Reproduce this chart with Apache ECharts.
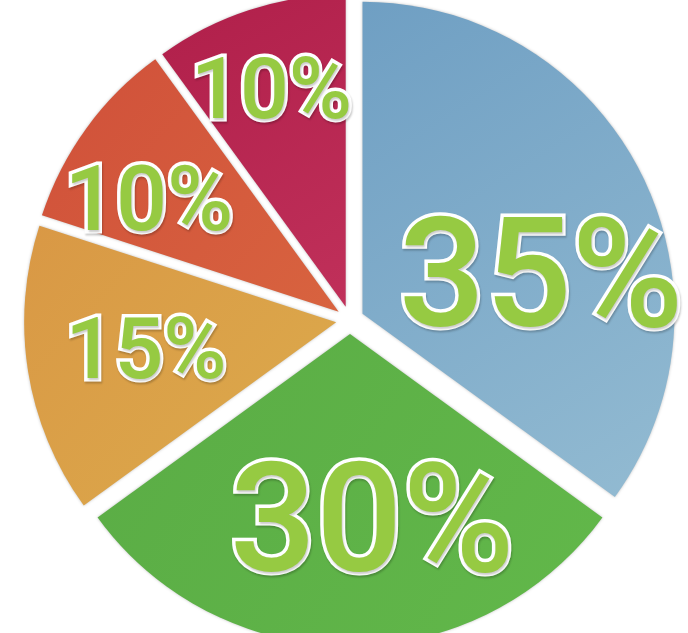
<!DOCTYPE html>
<html>
<head>
<meta charset="utf-8">
<script src="https://cdn.jsdelivr.net/npm/echarts@6/dist/echarts.min.js"></script>
<style>
html,body{margin:0;padding:0;background:#fff;}
#chart{width:688px;height:633px;}
</style>
</head>
<body>
<div id="chart"></div>
<script>
// Data
var categories = ['Blue', 'Green', 'Orange', 'Red', 'Crimson'];
var values = [35, 30, 15, 10, 10];
var labelsText = ['35%', '30%', '15%', '10%', '10%'];

// Styles (not data)
var sliceColors = [
  ['#6f9fc3', '#93bbd2'],
  ['#5aac45', '#62b84a'],
  ['#d99845', '#dcab4c'],
  ['#d0503a', '#d8633f'],
  ['#b01f4a', '#c0305a']
];
var labelSizes = [152, 152, 86, 90, 86];
var labelShift = [[37, 47], [22, 40], [-33, 9], [-61, -11], [-25, -59]];

var data = values.map(function (v, i) {
  return {
    name: categories[i],
    value: v,
    selected: true,
    itemStyle: {
      color: {
        type: 'linear', x: 0, y: 0, x2: 1, y2: 1,
        colorStops: [
          {offset: 0, color: sliceColors[i][0]},
          {offset: 1, color: sliceColors[i][1]}
        ]
      }
    },
    label: {
      formatter: labelsText[i],
      fontSize: labelSizes[i]
    }
  };
});

var chart = echarts.init(document.getElementById('chart'));
chart.setOption({
  animation: false,
  series: [{
    type: 'pie',
    center: [350, 320],
    radius: [0, 312],
    startAngle: 90,
    clockwise: true,
    selectedMode: 'multiple',
    selectedOffset: 14,
    avoidLabelOverlap: false,
    itemStyle: {
      borderWidth: 0,
      shadowColor: 'rgba(0,0,0,0.25)',
      shadowBlur: 3
    },
    label: {
      show: true,
      position: 'inside',
      fontFamily: 'Roboto',
      fontWeight: 500,
      color: '#96ca42',
      textBorderColor: '#ffffff',
      textBorderWidth: 7,
      textShadowColor: 'rgba(0,0,0,0.2)',
      textShadowBlur: 2,
      textShadowOffsetX: 1,
      textShadowOffsetY: 2
    },
    labelLayout: function (params) {
      var s = labelShift[params.dataIndex];
      return {dx: s[0], dy: s[1]};
    },
    labelLine: {show: false},
    emphasis: {disabled: true},
    data: data
  }]
});
</script>
</body>
</html>
